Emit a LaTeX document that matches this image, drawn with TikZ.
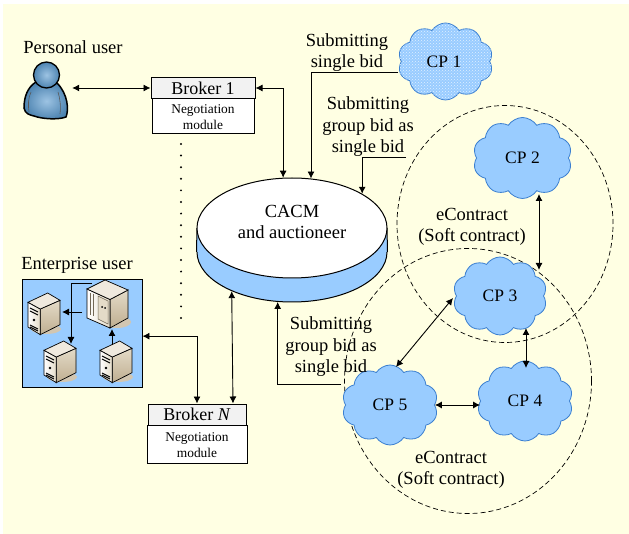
\documentclass[tikz,border=0pt]{standalone}
\usepackage{fontspec}
\setmainfont{Liberation Serif}
\usetikzlibrary{shapes.symbols,shapes.geometric,patterns,arrows.meta}
\definecolor{pagecream}{HTML}{FFFFE3}
\definecolor{cloudblue}{HTML}{99CCFF}
\definecolor{cloudedge}{HTML}{3B7FD0}
\definecolor{headgray}{HTML}{F2F2F2}
\definecolor{userblue}{HTML}{5B9BD0}
\definecolor{servertan}{HTML}{BFAE90}
\definecolor{servershade}{HTML}{E4DBC8}
\tikzset{
  labeltext/.style={align=center,font=\fontsize{18.5}{21.5}\selectfont},
  smalltext/.style={align=center,font=\fontsize{13.4}{16}\selectfont},
  brokerhead/.style={draw,line width=1pt,fill=headgray,font=\fontsize{18}{20}\selectfont,inner sep=0pt},
  brokerbody/.style={draw,line width=0.8pt,fill=white,smalltext,inner sep=0pt},
  cpcloud/.style={cloud,cloud puffs=10,cloud puff arc=115,draw=cloudedge,line width=0.8pt,fill=cloudblue,
    aspect=1.2,inner sep=0pt,font=\fontsize{17.5}{18}\selectfont},
  contract/.style={ellipse,draw,dashed,line width=0.7pt,inner sep=0pt,dash pattern=on 5pt off 3pt},
  bidarrow/.style={-{Latex[length=7pt,width=7pt]},line width=0.9pt},
  dblarrow/.style={{Latex[length=7pt,width=7pt]}-{Latex[length=7pt,width=7pt]},line width=0.9pt},
  serversmall/.pic={
    \fill[servertan!70] (18,36) ellipse (15 and 5);
    \draw[line width=0.7pt,top color=servershade,bottom color=servertan] (12.3,16) -- (32,7.3) -- (32,31.7) -- (12.3,41.7) -- cycle;
    \draw[line width=0.7pt,left color=white,right color=servershade] (0,9.3) -- (12.3,16) -- (12.3,41.7) -- (0,34) -- cycle;
    \draw[line width=0.7pt,fill=servershade!60] (19.7,0) -- (32,7.3) -- (12.3,16) -- (0,9.3) -- cycle;
    \draw[line width=1pt] (2,15) -- (10,19) (2,18) -- (10,22);
    \fill (6,27) circle (1.3);
    \draw[line width=1pt] (2,32) -- (10,36) (2,34) -- (10,38);
  },
  serverbig/.pic={
    \fill[servertan!70] (30,42) ellipse (14 and 6);
    \draw[line width=0.7pt,top color=servershade,bottom color=servertan] (23,19.5) -- (41,10) -- (41,38) -- (23,48) -- cycle;
    \draw[line width=0.7pt,left color=white,right color=servershade] (0,9) -- (23,19.5) -- (23,48) -- (0,38) -- cycle;
    \draw[line width=0.7pt,fill=servershade!60] (18,0) -- (41,10) -- (23,19.5) -- (0,9) -- cycle;
    \draw[servertan!60!black,line width=0.5pt,fill=servershade] (11,16) -- (21,21) -- (21,44) -- (11,39) -- cycle;
    \draw[servertan!60!black,line width=0.5pt] (3,13) -- (3,35) (6,14) -- (6,36);
    \fill (15,27) circle (1) (18,28) circle (1);
  },
}
\begin{document}
\begin{tikzpicture}[x=1pt,y=-1pt]
  \useasboundingbox (0,0) rectangle (629,534);
  \fill[pagecream] (3,4) rectangle (629,534);

  % dashed groups
  \node[contract,minimum width=216pt,minimum height=237pt] (contractupper) at (505,224) {};
  \node[contract,minimum width=247pt,minimum height=265pt] (contractlower) at (468,381) {};

  % the auctioneer
  \node[ellipse,draw,line width=1pt,fill=cloudblue,minimum width=190pt,minimum height=100pt,inner sep=0pt] (cacmbase) at (292,252) {};
  \fill[cloudblue] (197,228) rectangle (387,252);
  \draw[line width=1pt] (197,228) -- (cacmbase.west) (387,228) -- (cacmbase.east);
  \node[ellipse,draw,line width=1pt,fill=white,minimum width=190pt,minimum height=100pt,inner sep=0pt] (cacm) at (292,228) {};
  \node[labeltext] (cacmlabel) at (292,222) {CACM\\and auctioneer};

  % personal user
  \node[labeltext] (personlabel) at (73,47) {Personal user};
  \node[minimum width=48pt,minimum height=56pt,inner sep=0pt] (personuser) at (48,91) {};
  \draw[line width=1.5pt,outer color=userblue!85!black,inner color=userblue!60!white]
    (36,82) .. controls (28,87) and (24,96) .. (24,108)
    .. controls (25,114) and (30,115) .. (34,116)
    .. controls (42,119) and (58,120) .. (66,117)
    .. controls (69,110) and (68,94) .. (57,83) -- cycle;
  \draw[gray!70!black,line width=0.6pt] (31,92) .. controls (28,98) and (28,106) .. (29,112)
    (58,92) .. controls (60,98) and (61,106) .. (60,114);
  \draw[line width=1.3pt,inner color=userblue!60!white,outer color=userblue!85!black] (46.5,75) circle (13);

  % brokers
  \node[brokerbody,minimum width=102pt,minimum height=35pt,text depth=1.5pt] (moduleone) at (203,115.5) {};
  \node[smalltext] (moduleonelabel) at (203,117) {Negotiation\\module};
  \node[brokerhead,minimum width=104pt,minimum height=21pt] (brokerone) at (203,88) {\raisebox{-1pt}{Broker 1}};
  \node[brokerbody,minimum width=100pt,minimum height=38pt] (modulen) at (197,444) {};
  \node[smalltext] (modulenlabel) at (197,445.5) {Negotiation\\module};
  \node[brokerhead,minimum width=98pt,minimum height=21pt] (brokern) at (197,414.5) {\raisebox{-1pt}{Broker \textit{N}}};
  \draw[line width=2.2pt,line cap=round,dash pattern=on 0pt off 11.6pt] (181,144) -- (181,320);

  % enterprise user
  \node[labeltext] (enterpriselabel) at (77,265) {Enterprise user};
  \node[draw,line width=0.9pt,fill=cloudblue,minimum width=120pt,minimum height=108pt,inner sep=0pt] (enterprise) at (82,333) {};
  \pic at (28,293) {serversmall};
  \pic at (44,341) {serversmall};
  \pic at (100,341) {serversmall};
  \pic at (87,280) {serverbig};
  \coordinate (bigtop) at (92,283);
  \coordinate (bigside) at (82,312);
  \coordinate (bigbottom) at (112,329);
  \coordinate (leftserver) at (62,312);
  \coordinate (midserver) at (71,344);
  \coordinate (rightserver) at (112,345);
  \draw[bidarrow] (bigtop) -| (midserver);
  \draw[bidarrow] (bigside) -- (leftserver);
  \draw[bidarrow] (rightserver) -- (bigbottom);

  % providers
  \node[cpcloud,minimum width=95pt,minimum height=77pt,postaction={pattern=crosshatch dots,pattern color=white!70!cloudblue}] (cpone) at (445.5,61.5) {};
  \node[font=\fontsize{17.5}{18}\selectfont] (cponelabel) at (444,61.5) {CP 1};
  \node[cpcloud,minimum width=99pt,minimum height=81pt] (cptwo) at (522.5,158) {CP 2};
  \node[cpcloud,minimum width=94pt,minimum height=78pt] (cpthree) at (500,296) {CP 3};
  \node[cpcloud,minimum width=96pt,minimum height=80pt] (cpfour) at (525,401) {CP 4};
  \node[cpcloud,minimum width=96pt,minimum height=80pt] (cpfive) at (390,405) {CP 5};

  % labels of the bids and contracts
  \node[labeltext] (singlelabel) at (347,52.5) {Submitting\\single bid};
  \node[labeltext] (grouplabel) at (368,127) {Submitting\\group bid as\\single bid};
  \node[labeltext] (groupbottom) at (331,347) {Submitting\\group bid as\\single bid};
  \node[labeltext] (contractone) at (472,227) {eContract\\(Soft contract)};
  \node[labeltext] (contracttwo) at (451,470) {eContract\\(Soft contract)};

  % connectors
  \coordinate (groupendone) at (406,157);
  \coordinate (groupendtwo) at (341,384);
  \coordinate (cptwoport) at (539,194);
  \coordinate (cpthreeport) at (539,270);
  \coordinate (cpthreelow) at (526,328);
  \coordinate (cpfourtop) at (526,368);
  \coordinate (cpthreeleft) at (453,298);
  \coordinate (cpfivetop) at (396,367);
  \coordinate (cponeport) at (398,72);
  \draw[dblarrow] (personuser.east |- brokerone.west) -- (brokerone.west);
  \draw[dblarrow] (brokerone.east) -| (cacm.100);
  \draw[bidarrow] (cponeport) -| (cacm.69);
  \draw[bidarrow] (groupendone) -| (cacm.26);
  \draw[bidarrow] (groupendtwo) -| (cacmbase.254);
  \draw[dblarrow] (enterprise.-3) -| (brokern.north);
  \draw[dblarrow] (cacmbase.213) -- (brokern.17);
  \draw[dblarrow] (cptwoport) -- (cpthreeport);
  \draw[dblarrow] (cpthreelow) -- (cpfourtop);
  \draw[dblarrow] (cpthreeleft) -- (cpfivetop);
  \draw[dblarrow] (cpfive.east) -- (cpfive.east -| cpfour.west);
\end{tikzpicture}
\end{document}
